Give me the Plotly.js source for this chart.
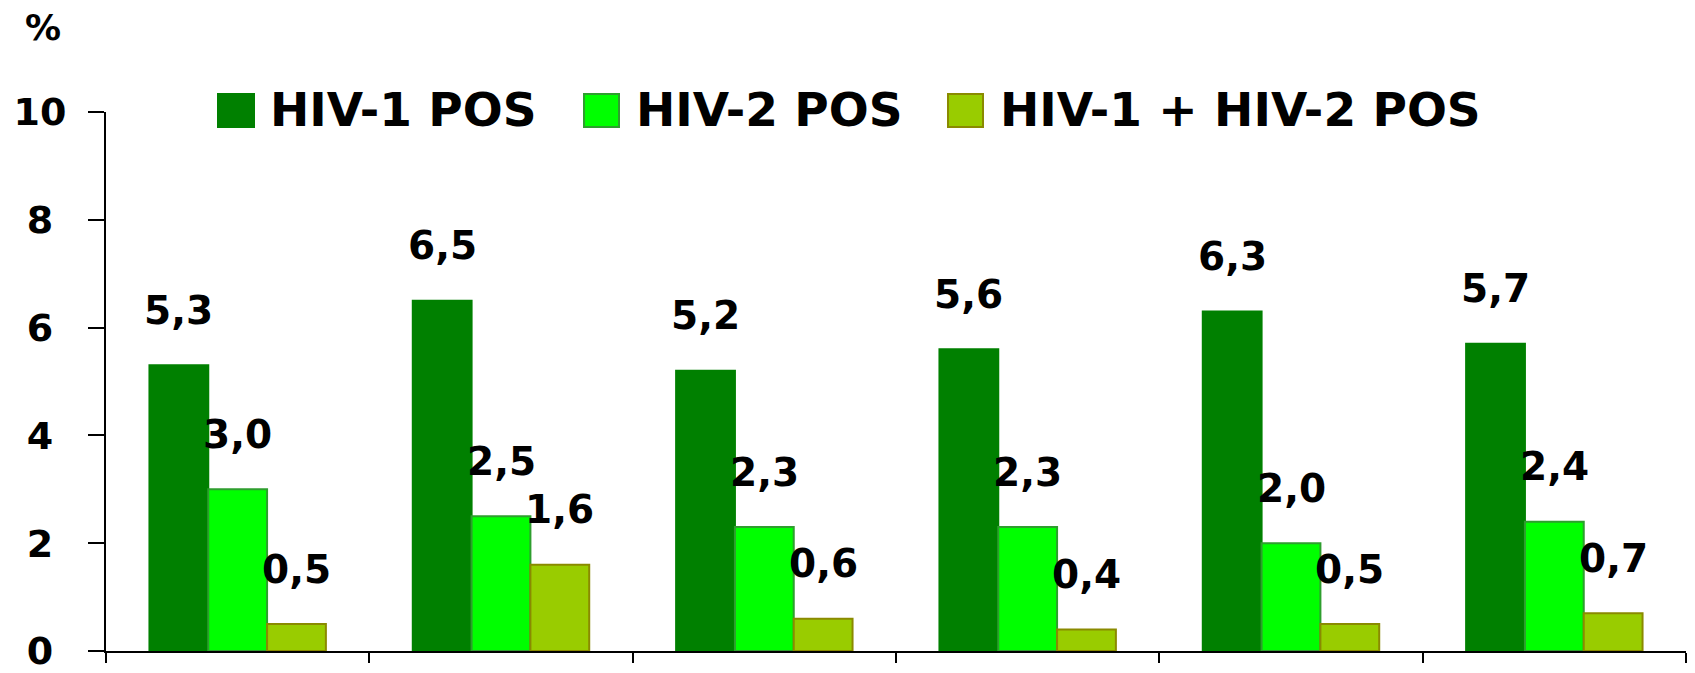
<!DOCTYPE html>
<html>
<head>
<meta charset="utf-8">
<script src="https://cdn.plot.ly/plotly-3.0.1.min.js"></script>
<style>
html,body{margin:0;padding:0;background:#fff;}
#chart{width:1695px;height:673px;}
</style>
</head>
<body>
<div id="chart"></div>
<script>
// ---- data ----
const categories = ["G1", "G2", "G3", "G4", "G5", "G6"];
const seriesNames = ["HIV-1 POS", "HIV-2 POS", "HIV-1 + HIV-2 POS"];
const hiv1 = [5.3, 6.5, 5.2, 5.6, 6.3, 5.7];
const hiv2 = [3.0, 2.5, 2.3, 2.3, 2.0, 2.4];
const hivBoth = [0.5, 1.6, 0.6, 0.4, 0.5, 0.7];
const yTicks = [0, 2, 4, 6, 8, 10];

// ---- styling / layout ----
const W = 1695, H = 673;
const M = {l: 106, r: 9, t: 112, b: 22};
const plotW = W - M.l - M.r, plotH = H - M.t - M.b;
const bargap = 0.33;
const FONT = "DejaVu Sans, Verdana, sans-serif";
const fills = ["#008000", "#00FF00", "#99CC00"];
const outlines = ["#008000", "#2E9E2E", "#8A8A00"];
const allSeries = [hiv1, hiv2, hivBoth];

const fmt = v => v.toFixed(1).replace('.', ',');
// centre single-digit tick labels under two-digit ones (NBSP = half a digit in DejaVu)
const tickLabel = v => String(v).length === 1 ? String(v) + '\u00A0' : String(v);

const traces = allSeries.map((vals, s) => ({
  type: 'bar',
  name: seriesNames[s],
  x: categories,
  y: vals,
  marker: {color: fills[s], line: {color: outlines[s], width: 2}},
  showlegend: false,
  hoverinfo: 'skip'
}));

const barPx = plotW / categories.length * (1 - bargap) / allSeries.length;
const annotations = [];
allSeries.forEach((vals, s) => {
  vals.forEach((v, i) => {
    annotations.push({
      x: categories[i], y: v, xref: 'x', yref: 'y',
      xshift: (s - 1) * barPx, yshift: 55,
      text: '<b>' + fmt(v) + '</b>', showarrow: false,
      font: {family: FONT, size: 39, color: '#000'},
      xanchor: 'center', yanchor: 'middle'
    });
  });
});

const px2x = p => (p - M.l) / plotW;
const px2y = p => (H - M.b - p) / plotH;

// "%" label
annotations.push({
  xref: 'paper', yref: 'paper', x: px2x(43), y: px2y(27),
  text: '<b>%</b>', showarrow: false, xanchor: 'center', yanchor: 'middle',
  font: {family: FONT, size: 36, color: '#000'}
});

// manual legend (large squares like the original)
const legSq = [[218, 254], [584, 619], [948, 983]];
const legTxt = [268, 634, 998];
const shapes = [];
seriesNames.forEach((n, s) => {
  shapes.push({
    type: 'rect', xref: 'paper', yref: 'paper',
    x0: px2x(legSq[s][0]), x1: px2x(legSq[s][1]), y0: px2y(127), y1: px2y(94),
    fillcolor: fills[s], line: {color: outlines[s], width: 2}
  });
  annotations.push({
    xref: 'paper', yref: 'paper', x: px2x(legTxt[s]), y: px2y(110),
    text: '<b>' + n + '</b>', showarrow: false, xanchor: 'left', yanchor: 'middle',
    font: {family: FONT, size: 47, color: '#000'}
  });
});

const layout = {
  width: W, height: H,
  margin: M,
  paper_bgcolor: '#fff', plot_bgcolor: '#fff',
  barmode: 'group', bargap: bargap, bargroupgap: 0,
  showlegend: false,
  xaxis: {
    type: 'category', range: [-0.5, categories.length - 0.5], showticklabels: false,
    showline: true, linecolor: '#000', linewidth: 2,
    ticks: 'outside', tickson: 'boundaries', ticklen: 10, tickwidth: 2, tickcolor: '#000',
    showgrid: false, zeroline: false, fixedrange: true
  },
  yaxis: {
    range: [0, 10], tickvals: yTicks, ticktext: yTicks.map(tickLabel),
    showline: true, linecolor: '#000', linewidth: 2,
    ticks: 'outside', ticklen: 16, tickwidth: 2, tickcolor: '#000',
    ticklabelstandoff: 14, ticklabeloverflow: 'allow',
    tickfont: {family: FONT, size: 38, color: '#000', weight: 'bold'},
    showgrid: false, zeroline: false, fixedrange: true
  },
  shapes: shapes,
  annotations: annotations
};

Plotly.newPlot('chart', traces, layout, {staticPlot: true, displayModeBar: false});
</script>
</body>
</html>
